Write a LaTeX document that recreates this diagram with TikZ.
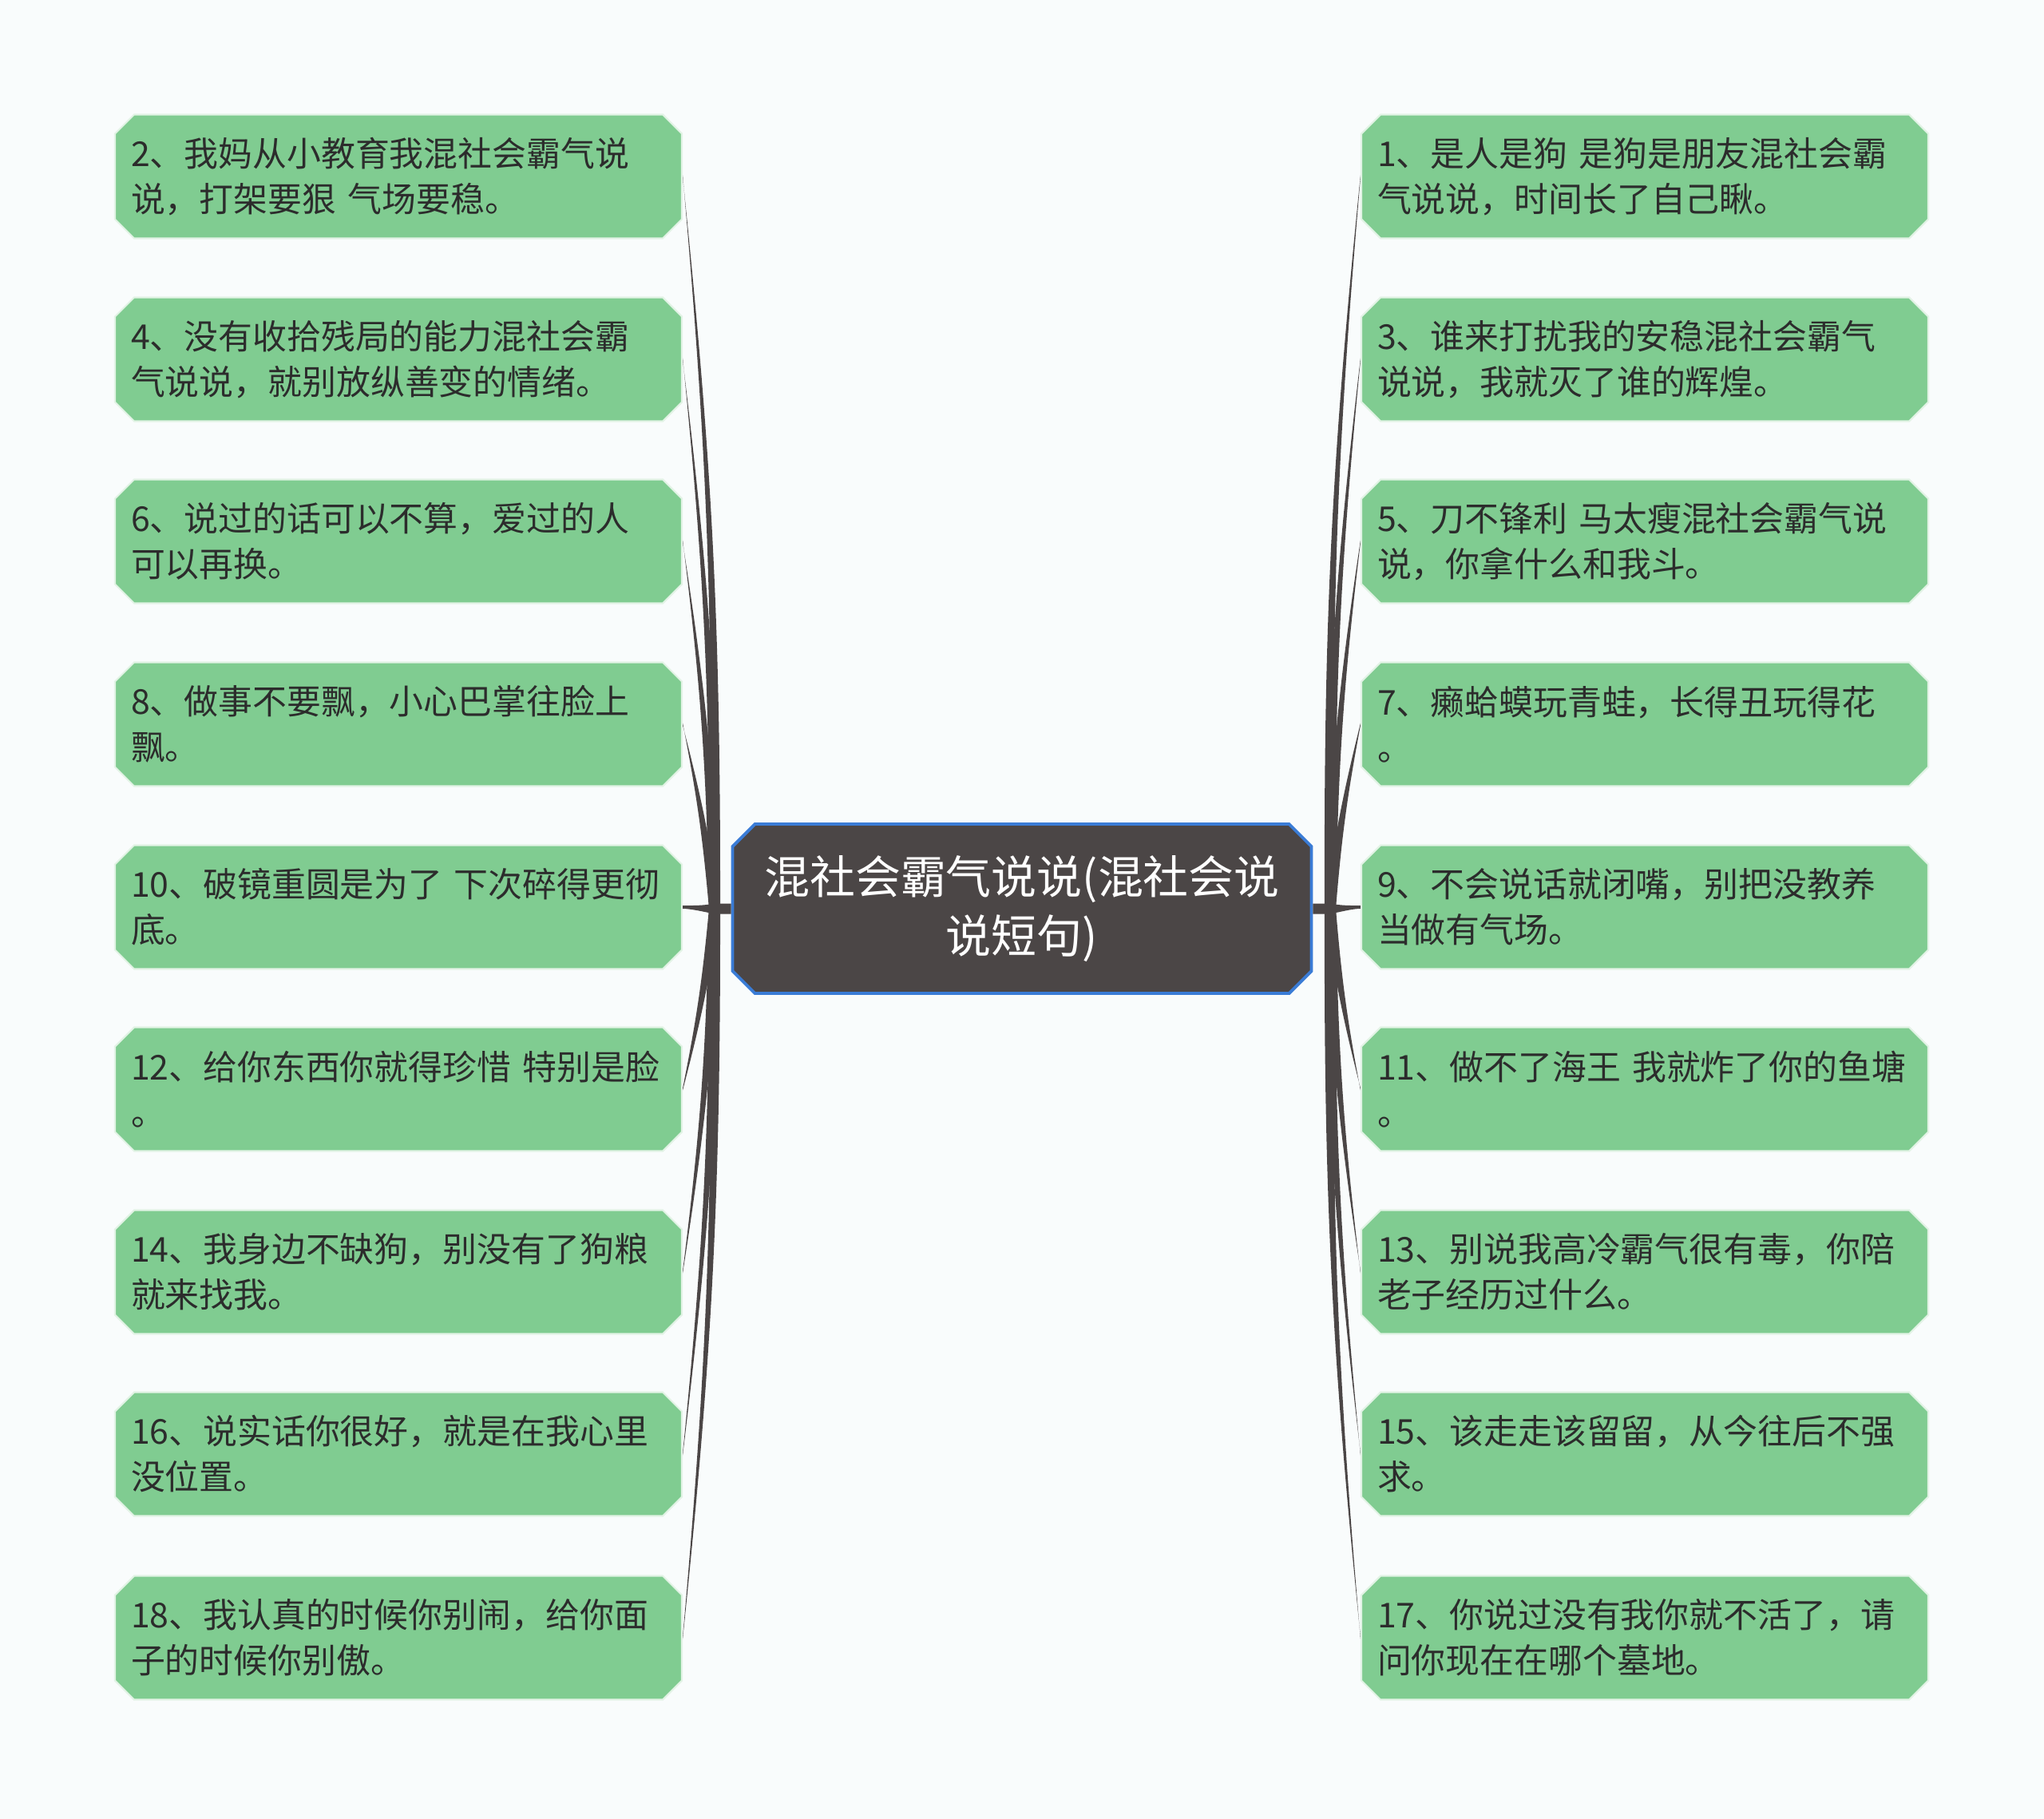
\documentclass[tikz,border=0pt]{standalone}
\usepackage{fontspec}
\setmainfont{Noto Sans CJK SC}
\usetikzlibrary{shapes.misc,calc}

\definecolor{leafgreen}{RGB}{128,204,145}
\definecolor{leafedge}{RGB}{226,243,229}
\definecolor{hubgray}{RGB}{75,70,70}
\definecolor{hubblue}{RGB}{58,124,214}
\definecolor{inkgray}{RGB}{44,44,44}
\definecolor{paper}{RGB}{249,252,252}

\tikzset{
  leaf/.style={chamfered rectangle, chamfered rectangle xsep=0.12cm,
    chamfered rectangle ysep=0.12cm, fill=leafgreen, draw=leafedge,
    line width=0.6pt, text=inkgray, text width=6.7cm, align=left,
    inner xsep=0.08cm, inner ysep=0cm, minimum height=1.55cm,
    font=\fontsize{12.2pt}{16.2pt}\selectfont},
  hub/.style={chamfered rectangle, chamfered rectangle xsep=0.14cm,
    chamfered rectangle ysep=0.14cm, fill=hubgray, draw=hubblue,
    line width=1.1pt, text=white, minimum width=7.25cm,
    minimum height=2.12cm, align=center,
    font=\fontsize{16.2pt}{21pt}\selectfont},
  branch/.style={fill=hubgray}
}

\begin{document}
\begin{tikzpicture}
\def\twig#1#2#3#4{\fill[branch] ($(#1)+(-0.07,0)$) to[#3] ($(#2)+(0,0.013)$) -- ($(#2)+(0,-0.013)$) to[#4] ($(#1)+(0.07,0)$) -- cycle;}
\fill[paper] (0,0) rectangle (25.6,-22.78);
\useasboundingbox (0,0) rectangle (25.6,-22.78);

\node[hub] at (12.80,-11.38) (c) {混社会霸气说说(混社会说\\说短句)};
\coordinate (jl) at (8.95,-11.38);
\coordinate (jr) at (16.66,-11.38);

% left side
\node[leaf] at (4.99,-2.21) (l2) {2、我妈从小教育我混社会霸气说\\说，打架要狠~气场要稳。};
\node[leaf] at (4.99,-4.50) (l4) {4、没有收拾残局的能力混社会霸\\气说说，就别放纵善变的情绪。};
\node[leaf] at (4.99,-6.78) (l6) {6、说过的话可以不算，爱过的人\\可以再换。};
\node[leaf] at (4.99,-9.07) (l8) {8、做事不要飘，小心巴掌往脸上\\飘。};
\node[leaf] at (4.99,-11.36) (l10) {10、破镜重圆是为了~下次碎得更彻\\底。};
\node[leaf] at (4.99,-13.64) (l12) {12、给你东西你就得珍惜~特别是脸\\。};
\node[leaf] at (4.99,-15.93) (l14) {14、我身边不缺狗，别没有了狗粮\\就来找我。};
\node[leaf] at (4.99,-18.21) (l16) {16、说实话你很好，就是在我心里\\没位置。};
\node[leaf] at (4.99,-20.51) (l18) {18、我认真的时候你别闹，给你面\\子的时候你别傲。};

% right side
\node[leaf] at (20.60,-2.21) (r1) {1、是人是狗~是狗是朋友混社会霸\\气说说，时间长了自己瞅。};
\node[leaf] at (20.60,-4.50) (r3) {3、谁来打扰我的安稳混社会霸气\\说说，我就灭了谁的辉煌。};
\node[leaf] at (20.60,-6.78) (r5) {5、刀不锋利~马太瘦混社会霸气说\\说，你拿什么和我斗。};
\node[leaf] at (20.60,-9.07) (r7) {7、癞蛤蟆玩青蛙，长得丑玩得花\\。};
\node[leaf] at (20.60,-11.36) (r9) {9、不会说话就闭嘴，别把没教养\\当做有气场。};
\node[leaf] at (20.60,-13.64) (r11) {11、做不了海王~我就炸了你的鱼塘\\。};
\node[leaf] at (20.60,-15.93) (r13) {13、别说我高冷霸气很有毒，你陪\\老子经历过什么。};
\node[leaf] at (20.60,-18.21) (r15) {15、该走走该留留，从今往后不强\\求。};
\node[leaf] at (20.60,-20.51) (r17) {17、你说过没有我你就不活了，请\\问你现在在哪个墓地。};

% stubs
\fill[branch] ($(c.west)+(0,0.065)$) -- ($(jl)+(0,0.065)$) .. controls +(-0.15,-0.03) and +(0.1,0) .. ($(l10.east)+(0,0.02)$) -- ($(l10.east)+(0,-0.02)$) .. controls +(0.1,0) and +(-0.15,0.03) .. ($(jl)+(0,-0.065)$) -- ($(c.west)+(0,-0.065)$) -- cycle;
\fill[branch] ($(c.east)+(0,0.065)$) -- ($(jr)+(0,0.065)$) .. controls +(0.15,-0.03) and +(-0.1,0) .. ($(r9.west)+(0,0.02)$) -- ($(r9.west)+(0,-0.02)$) .. controls +(-0.1,0) and +(0.15,0.03) .. ($(jr)+(0,-0.065)$) -- ($(c.east)+(0,-0.065)$) -- cycle;

% branches
\twig{jl}{l2.east}{bend right=3}{bend left=3}
\twig{jl}{l4.east}{bend right=3}{bend left=3}
\twig{jl}{l6.east}{bend right=3}{bend left=3}
\twig{jl}{l8.east}{bend right=3}{bend left=3}
\twig{jl}{l12.east}{bend left=3}{bend right=3}
\twig{jl}{l14.east}{bend left=3}{bend right=3}
\twig{jl}{l16.east}{bend left=3}{bend right=3}
\twig{jl}{l18.east}{bend left=3}{bend right=3}
\twig{jr}{r1.west}{bend left=3}{bend right=3}
\twig{jr}{r3.west}{bend left=3}{bend right=3}
\twig{jr}{r5.west}{bend left=3}{bend right=3}
\twig{jr}{r7.west}{bend left=3}{bend right=3}
\twig{jr}{r11.west}{bend right=3}{bend left=3}
\twig{jr}{r13.west}{bend right=3}{bend left=3}
\twig{jr}{r15.west}{bend right=3}{bend left=3}
\twig{jr}{r17.west}{bend right=3}{bend left=3}
\end{tikzpicture}
\end{document}
